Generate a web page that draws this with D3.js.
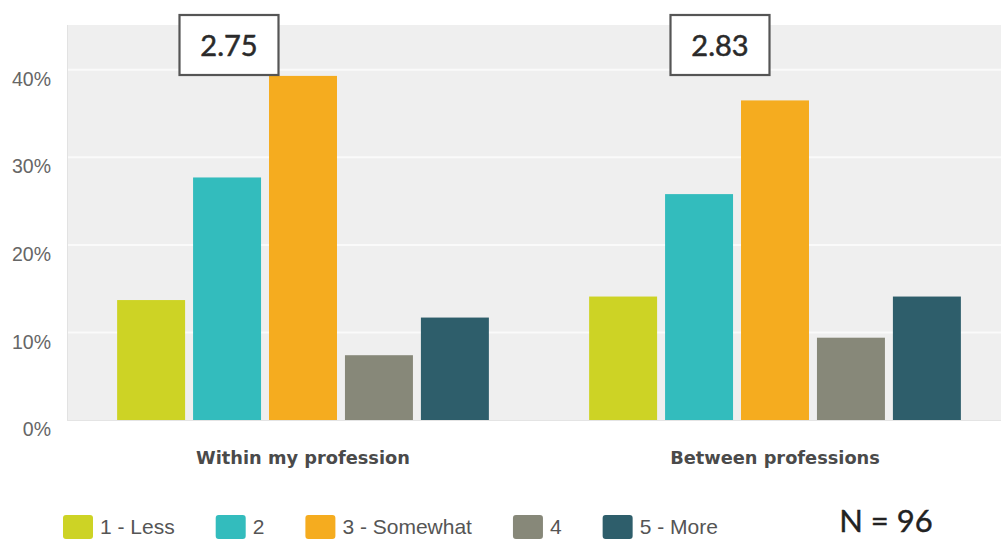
<!DOCTYPE html>
<html>
<head>
<meta charset="utf-8">
<script src="https://cdn.jsdelivr.net/npm/d3@7"></script>
<style>
  body { margin: 0; background: #fff; }
  svg { display: block; }
</style>
</head>
<body>
<script>
// rating distribution per context, in percent of respondents
const categories = ["Within my profession", "Between professions"];
const series = ["1 - Less", "2", "3 - Somewhat", "4", "5 - More"];
const withinValues = [13.7, 27.7, 39.3, 7.4, 11.7];
const betweenValues = [14.1, 25.8, 36.5, 9.4, 14.1];
const meanScores = ["2.75", "2.83"];
const yTicks = [0, 10, 20, 30, 40];
const sampleLabel = "N = 96";

const colors = ["#cdd325", "#33bcbd", "#f5ac1f", "#878879", "#2e5e6b"];

const width = 1001, height = 542;
const plot = { left: 67, right: 1011, top: 25, bottom: 420 };

const svg = d3.select("body").append("svg")
    .attr("width", width)
    .attr("height", height);

const rows = categories.map(function(c, i) {
    return { cat: c, values: i === 0 ? withinValues : betweenValues, mean: meanScores[i] };
});

const x0 = d3.scaleBand().domain(categories).range([plot.left, plot.right]);
const x1 = d3.scaleBand().domain(series).range([0, x0.bandwidth()])
    .paddingInner(0.105).paddingOuter(0.66);
const y = d3.scaleLinear().domain([0, 45]).range([plot.bottom, plot.top + 1]);

// background panel
svg.append("rect")
    .attr("x", plot.left).attr("y", plot.top)
    .attr("width", plot.right - plot.left).attr("height", plot.bottom - plot.top)
    .attr("fill", "#efefef");
svg.append("line")
    .attr("x1", plot.left + 0.5).attr("x2", plot.left + 0.5)
    .attr("y1", plot.top).attr("y2", plot.bottom)
    .attr("stroke", "#e2e2e2");
svg.append("line")
    .attr("x1", plot.left).attr("x2", plot.right)
    .attr("y1", plot.bottom + 0.5).attr("y2", plot.bottom + 0.5)
    .attr("stroke", "#e4e4e4");

// gridlines
svg.append("g").selectAll("line")
    .data(yTicks.filter(function(d) { return d > 0; }))
    .enter().append("line")
    .attr("x1", plot.left + 1).attr("x2", plot.right)
    .attr("y1", function(d) { return y(d); })
    .attr("y2", function(d) { return y(d); })
    .attr("stroke", "#fafafa")
    .attr("stroke-width", 2);

// y axis labels sit a bit under their gridline
const yAxis = svg.append("g")
    .attr("transform", "translate(51,0)")
    .call(d3.axisLeft(y).tickValues(yTicks).tickSize(0).tickPadding(0)
        .tickFormat(function(d) { return d + "%"; }));
yAxis.select(".domain").remove();
yAxis.selectAll("text")
    .attr("dy", "0.8em")
    .attr("font-family", "'Liberation Sans', Arial, sans-serif")
    .attr("font-size", "19.5px")
    .attr("fill", "#666");

// bars
const groups = svg.append("g").selectAll("g")
    .data(rows)
    .enter().append("g")
    .attr("transform", function(d) { return "translate(" + x0(d.cat) + ",0)"; });

groups.selectAll("rect")
    .data(function(d) { return d.values.map(function(v, i) { return { key: series[i], value: v }; }); })
    .enter().append("rect")
    .attr("x", function(d) { return x1(d.key); })
    .attr("y", function(d) { return y(d.value); })
    .attr("width", x1.bandwidth())
    .attr("height", function(d) { return y(0) - y(d.value); })
    .attr("fill", function(d, i) { return colors[i]; });

// category labels
svg.append("g").selectAll("text")
    .data(categories)
    .enter().append("text")
    .attr("x", function(d) { return x0(d) + x0.bandwidth() / 2; })
    .attr("y", 464)
    .attr("text-anchor", "middle")
    .attr("font-family", "'DejaVu Sans', Verdana, sans-serif")
    .attr("font-weight", "bold")
    .attr("font-size", "17.8px")
    .attr("fill", "#4a4a4a")
    .text(function(d) { return d; });

// mean score boxes, offset left of each group's centre
const boxOffset = [-74, -55];
const boxW = 101, boxH = 62, boxTop = 14;
const boxes = svg.append("g").selectAll("g")
    .data(rows)
    .enter().append("g")
    .attr("transform", function(d, i) {
        const cx = x0(d.cat) + x0.bandwidth() / 2 + boxOffset[i];
        return "translate(" + (cx - boxW / 2) + "," + boxTop + ")";
    });
boxes.append("rect")
    .attr("x", 1).attr("y", 1)
    .attr("width", boxW - 2).attr("height", boxH - 2)
    .attr("fill", "#fff")
    .attr("stroke", "#555")
    .attr("stroke-width", 2.2);
boxes.append("text")
    .attr("x", boxW / 2).attr("y", 42)
    .attr("text-anchor", "middle")
    .attr("font-family", "Lato, 'Open Sans', sans-serif")
    .attr("font-size", "29px")
    .attr("fill", "#2a2a2a")
    .attr("stroke", "#2a2a2a")
    .attr("stroke-width", 0.5)
    .text(function(d) { return d.mean; });

// legend
const legend = svg.append("g").attr("transform", "translate(63,515)");
let lx = 0;
series.forEach(function(s, i) {
    const item = legend.append("g").attr("transform", "translate(" + lx + ",0)");
    item.append("rect")
        .attr("width", 30).attr("height", 24)
        .attr("rx", 3)
        .attr("fill", colors[i]);
    const t = item.append("text")
        .attr("x", 37).attr("y", 19)
        .attr("font-family", "'Liberation Sans', Arial, sans-serif")
        .attr("font-size", "21px")
        .attr("fill", "#555")
        .text(s);
    lx += 37 + t.node().getComputedTextLength() + 41;
});

svg.append("text")
    .attr("x", 886).attr("y", 532)
    .attr("text-anchor", "middle")
    .attr("font-family", "Lato, 'Open Sans', sans-serif")
    .attr("font-size", "31px")
    .attr("fill", "#222")
    .attr("stroke", "#222")
    .attr("stroke-width", 0.4)
    .text(sampleLabel);
</script>
</body>
</html>
